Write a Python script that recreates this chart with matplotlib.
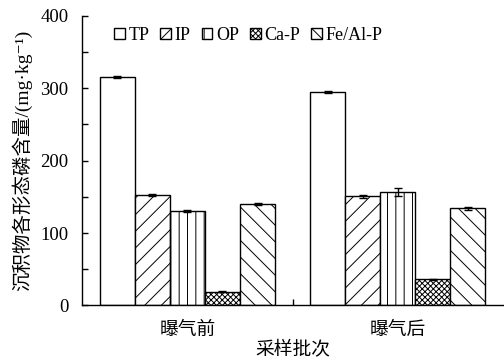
import matplotlib
matplotlib.use("Agg")
import matplotlib.pyplot as plt
import numpy as np
from matplotlib.ticker import MultipleLocator, FixedLocator

plt.rcParams['font.family'] = ['Liberation Serif', 'Noto Sans CJK SC', 'DejaVu Serif']
plt.rcParams['hatch.linewidth'] = 0.7

groups = ['曝气前', '曝气后']
series = ['TP', 'IP', 'OP', 'Ca-P', 'Fe/Al-P']
TP = [316, 295]
IP = [152, 150.5]
OP = [131, 157]
CaP = [19, 36]
FeAlP = [140, 134]
TP_err = [1.5, 1.5]
IP_err = [1.5, 1.5]
OP_err = [1.5, 5.5]
CaP_err = [1.0, 1.0]
FeAlP_err = [1.5, 1.5]

values = [TP, IP, OP, CaP, FeAlP]
errors = [TP_err, IP_err, OP_err, CaP_err, FeAlP_err]
hatches = ['', '//', '||', 'xxxxxx', '\\\\']

fig = plt.figure(figsize=(5.04, 3.61), dpi=100)
ax = fig.add_axes([0.163, 0.154, 0.835, 0.802])

x = np.arange(len(groups))
w = 1 / 6
for i, (s, v, e, h) in enumerate(zip(series, values, errors, hatches)):
    pos = x + (i - 2) * w
    ax.bar(pos, v, width=w, color='white', edgecolor='black', linewidth=1.0,
           hatch=h, label=s, yerr=e, capsize=3,
           error_kw=dict(ecolor='black', elinewidth=1.0, capthick=1.0))

ax.set_xlim(-0.5, 1.5)
ax.set_ylim(0, 400)
ax.yaxis.set_major_locator(MultipleLocator(100))
ax.yaxis.set_minor_locator(MultipleLocator(50))
ax.set_xticks(x)
ax.set_xticklabels(groups, fontsize=13.5)
ax.xaxis.set_minor_locator(FixedLocator([0.5]))
ax.tick_params(axis='x', which='major', length=0, pad=12)
ax.tick_params(axis='x', which='minor', direction='in', length=4, width=1)
ax.tick_params(axis='y', which='both', direction='in', length=4, width=1,
               labelsize=13.5, pad=10)
ax.spines['top'].set_visible(False)
ax.spines['right'].set_visible(False)
for sp in ['left', 'bottom']:
    ax.spines[sp].set_linewidth(1.0)

ax.set_ylabel('沉积物各形态磷含量/(mg·kg⁻¹)', fontsize=14, labelpad=6)
ax.set_xlabel('采样批次', fontsize=13.5, labelpad=1)

leg = ax.legend(ncol=5, loc='upper left', bbox_to_anchor=(0.05, 1.0), frameon=False,
                fontsize=13, handlelength=0.6, handleheight=0.6, handletextpad=0.2,
                columnspacing=0.6, borderaxespad=0.2)

fig.savefig('out.png', dpi=100)
